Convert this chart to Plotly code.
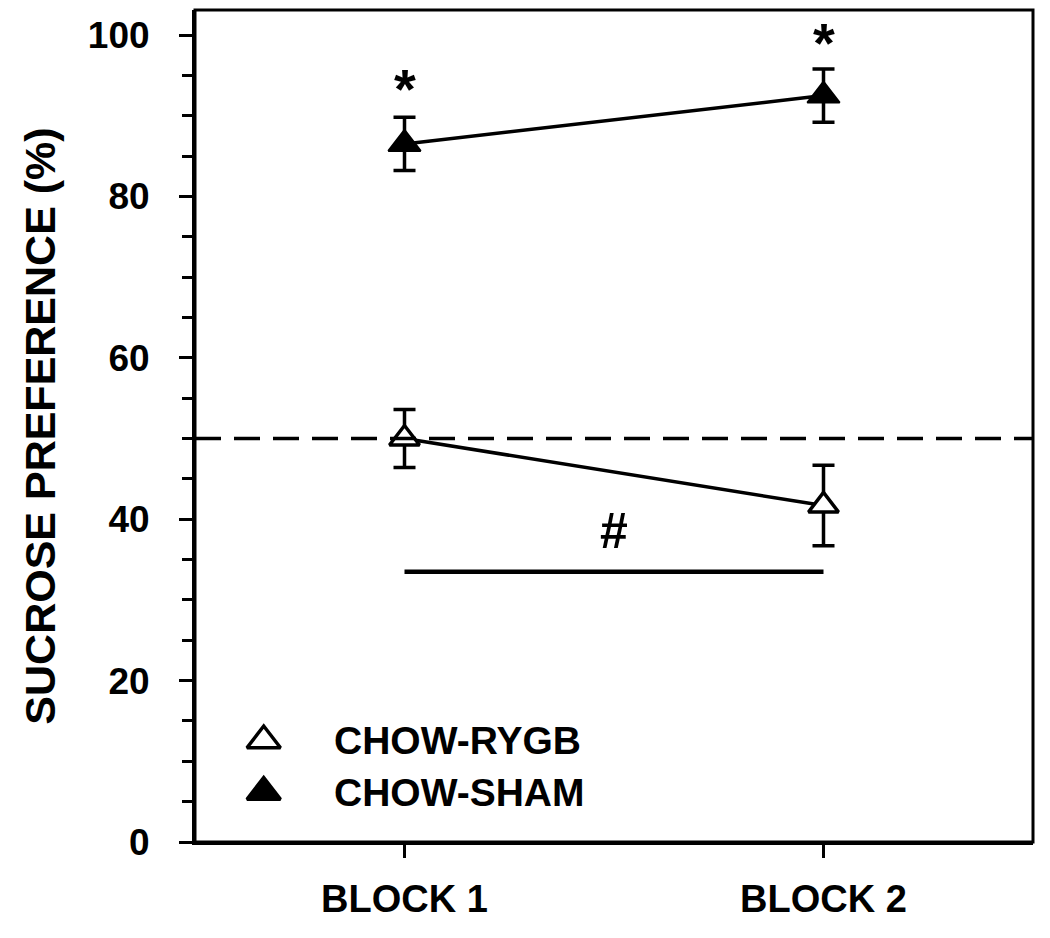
import plotly.graph_objects as go

# values
blocks = [1, 2]
block_labels = ["BLOCK 1", "BLOCK 2"]
rygb_mean = [50.0, 41.7]
rygb_sem = [3.6, 5.0]
sham_mean = [86.5, 92.5]
sham_sem = [3.3, 3.3]
chance_level = 50
sig_bar_y = 33.5
star_y = [93.4, 99.1]
hash_y = 38.5

FONT = "Liberation Sans, Arial, sans-serif"
BLACK = "black"

fig = go.Figure()

# frame around the plotting area
fig.add_shape(type="rect", xref="paper", yref="paper", x0=0, x1=1, y0=0, y1=1,
              line=dict(color=BLACK, width=3), layer="above")

# 50 % reference line
fig.add_shape(type="line", xref="paper", x0=0, x1=1, y0=chance_level, y1=chance_level,
              line=dict(color=BLACK, width=3.5, dash="26px,13px"))

# RYGB vs block bar
fig.add_trace(go.Scatter(x=blocks, y=[sig_bar_y, sig_bar_y], mode="lines",
                         line=dict(color=BLACK, width=4.5), showlegend=False, hoverinfo="skip"))

err_style = dict(type="data", visible=True, color=BLACK, thickness=3.5, width=11)

fig.add_trace(go.Scatter(
    x=blocks, y=sham_mean, mode="lines+markers", name="CHOW-SHAM",
    error_y=dict(array=sham_sem, **err_style),
    line=dict(color=BLACK, width=3.5),
    marker=dict(symbol="triangle-up", size=28, color=BLACK, line=dict(color=BLACK, width=2)),
    showlegend=False))

fig.add_trace(go.Scatter(
    x=blocks, y=rygb_mean, mode="lines+markers", name="CHOW-RYGB",
    error_y=dict(array=rygb_sem, **err_style),
    line=dict(color=BLACK, width=3.5),
    marker=dict(symbol="triangle-up", size=26, color="white", line=dict(color=BLACK, width=3.5)),
    showlegend=False))

# significance marks
for xb, ys in zip(blocks, star_y):
    fig.add_annotation(x=xb, y=ys, text="*", showarrow=False, yanchor="middle",
                       font=dict(family=FONT, size=56, color=BLACK, weight="bold"))
fig.add_annotation(x=sum(blocks) / 2, y=hash_y, text="#", showarrow=False, yanchor="middle",
                   font=dict(family=FONT, size=50, color=BLACK, weight="bold"))

# hand-drawn legend on a hidden 0-1 axis pair
legend_names = ["CHOW-RYGB", "CHOW-SHAM"]
legend_fill = ["white", BLACK]
legend_y = [0.122, 0.06]
for name, fill, ly in zip(legend_names, legend_fill, legend_y):
    fig.add_trace(go.Scatter(x=[0.082], y=[ly], mode="markers", xaxis="x2", yaxis="y2",
                             marker=dict(symbol="triangle-up", size=29, color=fill,
                                         line=dict(color=BLACK, width=3.5)),
                             showlegend=False, hoverinfo="skip"))
    fig.add_annotation(xref="paper", yref="paper", x=0.163, y=ly, text=name, showarrow=False,
                       xanchor="left", yanchor="middle",
                       font=dict(family=FONT, size=39, color=BLACK, weight="bold"))

fig.update_layout(
    width=1042, height=930,
    margin=dict(l=187, r=17, t=2, b=96),
    paper_bgcolor="white", plot_bgcolor="white",
    font=dict(family=FONT, size=38, color=BLACK, weight="bold"),
    showlegend=False,
    xaxis=dict(range=[0.5, 2.5], tickvals=blocks, ticktext=block_labels, automargin=False,
               showline=True, linecolor=BLACK, linewidth=3,
               ticks="outside", ticklen=13, tickwidth=3, tickcolor=BLACK,
               showgrid=False, zeroline=False, ticklabelstandoff=8),
    yaxis=dict(range=[0, 103.1], tickvals=[0, 20, 40, 60, 80, 100], automargin=False,
               tickfont=dict(size=37),
               showline=True, linecolor=BLACK, linewidth=3,
               ticks="outside", ticklen=13, tickwidth=3, tickcolor=BLACK,
               minor=dict(dtick=5, ticks="outside", ticklen=10, tickwidth=3, tickcolor=BLACK),
               showgrid=False, zeroline=False, ticklabelstandoff=22,
               title=dict(text="SUCROSE PREFERENCE (%)", standoff=19,
                          font=dict(family=FONT, size=43, color=BLACK, weight="bold"))),
    xaxis2=dict(range=[0, 1], overlaying="x", visible=False),
    yaxis2=dict(range=[0, 1], overlaying="y", visible=False),
)

fig.write_html("out.html")
